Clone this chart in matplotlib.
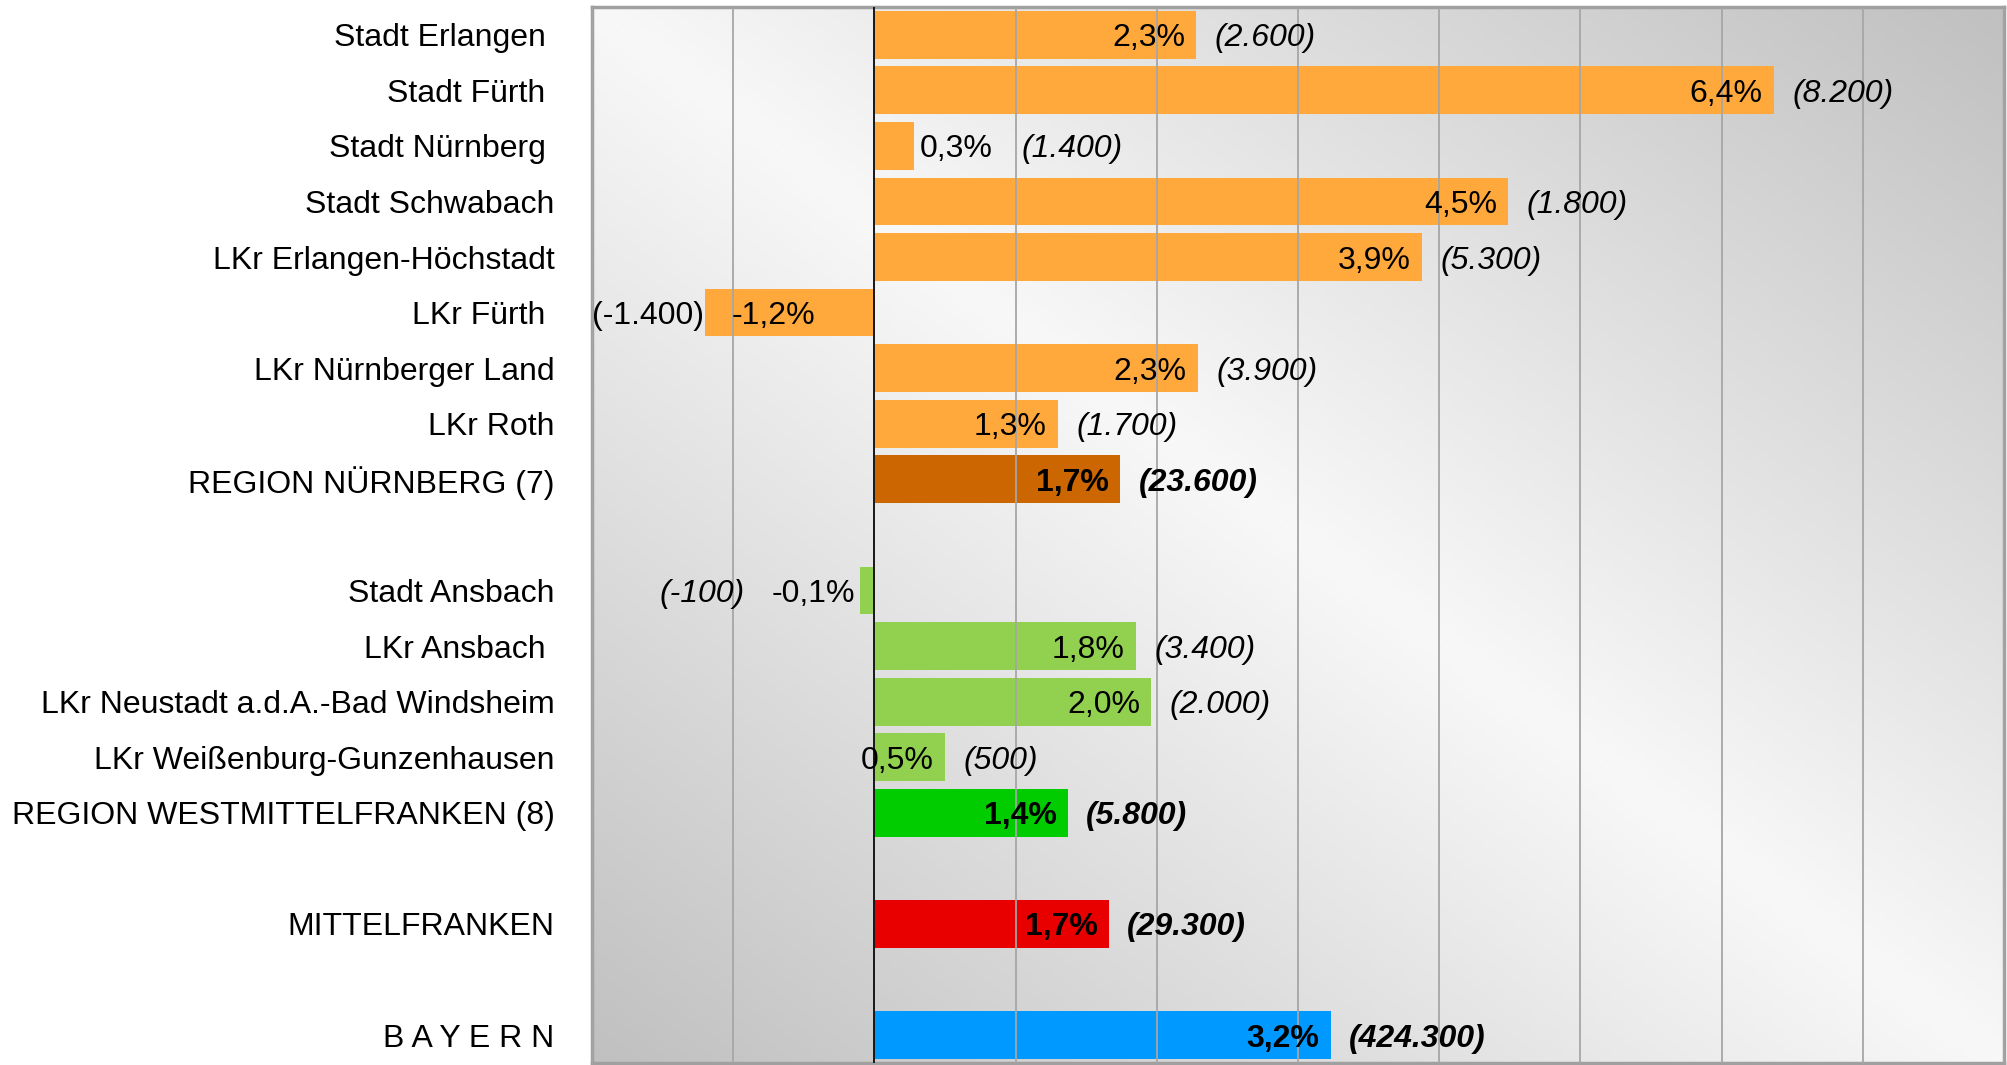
import numpy as np
import matplotlib
matplotlib.use("Agg")
import matplotlib.pyplot as plt

plt.rcParams['font.family'] = ['Liberation Sans', 'DejaVu Sans']

# data
categories = [
    "Stadt Erlangen ", "Stadt Fürth ", "Stadt Nürnberg ", "Stadt Schwabach",
    "LKr Erlangen-Höchstadt", "LKr Fürth ", "LKr Nürnberger Land", "LKr Roth",
    "REGION NÜRNBERG (7)",
    "Stadt Ansbach", "LKr Ansbach ", "LKr Neustadt a.d.A.-Bad Windsheim",
    "LKr Weißenburg-Gunzenhausen", "REGION WESTMITTELFRANKEN (8)",
    "MITTELFRANKEN",
    "B A Y E R N",
]
group_sizes = [9, 5, 1, 1]
values = [2.28, 6.37, 0.28, 4.49, 3.88, -1.20, 2.29, 1.30, 1.74,
          -0.10, 1.85, 1.96, 0.50, 1.37,
          1.66,
          3.23]
pct_labels = ["2,3%", "6,4%", "0,3%", "4,5%", "3,9%", "-1,2%", "2,3%", "1,3%", "1,7%",
              "-0,1%", "1,8%", "2,0%", "0,5%", "1,4%",
              "1,7%",
              "3,2%"]
abs_labels = ["(2.600)", "(8.200)", "(1.400)", "(1.800)", "(5.300)", "(-1.400)",
              "(3.900)", "(1.700)", "(23.600)",
              "(-100)", "(3.400)", "(2.000)", "(500)", "(5.800)",
              "(29.300)",
              "(424.300)"]
colors = ["#FFA83C"] * 8 + ["#CC6600"] + ["#92D050"] * 4 + ["#00CC00"] + ["#E80000"] + ["#0099FF"]
totals = {"REGION NÜRNBERG (7)", "REGION WESTMITTELFRANKEN (8)", "MITTELFRANKEN", "B A Y E R N"}

# row positions: groups separated by one empty slot
ypos = []
slot = 0
for size in group_sizes:
    ypos.extend(range(slot, slot + size))
    slot += size + 1
n_slots = slot - 1

fig = plt.figure(figsize=(20.07, 10.65), dpi=100)
ax = fig.add_axes([0.295, 0.002, 0.7035, 0.9915])

# diagonal grey gradient background
xn = np.linspace(0, 1, 300)
yn = np.linspace(0, 1, 300)
X, Y = np.meshgrid(xn, yn)
t = np.abs(X - Y)
light, dark = 248 / 255, 192 / 255
g = light - (light - dark) * t
img = np.dstack([g, g, g])
ax.imshow(img, extent=(-2, 8, n_slots - 0.5, -0.5), origin='upper', aspect='auto', zorder=0)

ax.barh(ypos, values, height=0.86, color=colors, zorder=2)
ax.axvline(0, color='black', lw=1.2, zorder=3)

fs = 23
va = 'center_baseline'
for y, v, name, p, a in zip(ypos, values, categories, pct_labels, abs_labels):
    bold = 'bold' if name in totals else 'normal'
    style = 'normal' if name == "LKr Fürth " else 'italic'
    inside = abs(v) >= 0.4
    if v >= 0:
        if inside:
            ax.text(v - 0.08, y, p, ha='right', va=va, fontsize=fs, fontweight=bold, zorder=4)
            ax.text(v + 0.13, y, a, ha='left', va=va, fontsize=fs, fontweight=bold,
                    fontstyle=style, zorder=4)
        else:
            pt = ax.text(v + 0.04, y, p, ha='left', va=va, fontsize=fs, fontweight=bold, zorder=4)
            ax.annotate(a, xy=(1, 0.5), xycoords=pt, xytext=(21, 0), textcoords='offset points',
                        ha='left', va='center', fontsize=fs, fontweight=bold, fontstyle=style)
    else:
        if inside:
            ax.text(v + 0.19, y, p, ha='left', va=va, fontsize=fs, fontweight=bold, zorder=4)
            ax.text(v - 0.01, y, a, ha='right', va=va, fontsize=fs, fontweight=bold,
                    fontstyle=style, zorder=4)
        else:
            pt = ax.text(v - 0.04, y, p, ha='right', va=va, fontsize=fs, fontweight=bold, zorder=4)
            ax.annotate(a, xy=(0, 0.5), xycoords=pt, xytext=(-19, 0), textcoords='offset points',
                        ha='right', va='center', fontsize=fs, fontweight=bold, fontstyle=style)

ax.set_xlim(-2, 8)
ax.set_ylim(n_slots - 0.5, -0.5)
ax.set_xticks(range(-2, 9))
ax.grid(axis='x', color='#A6A6A6', lw=1.3, zorder=1)
ax.set_axisbelow(False)
for gl in ax.get_xgridlines():
    gl.set_zorder(1)
ax.tick_params(axis='x', labelbottom=False, length=0)
ax.set_yticks(ypos, categories)
ax.tick_params(axis='y', length=0, pad=27, labelsize=fs)

for sp in ax.spines.values():
    sp.set_color('#A0A0A0')
    sp.set_linewidth(2.5)

fig.savefig('out.png', dpi=100)
